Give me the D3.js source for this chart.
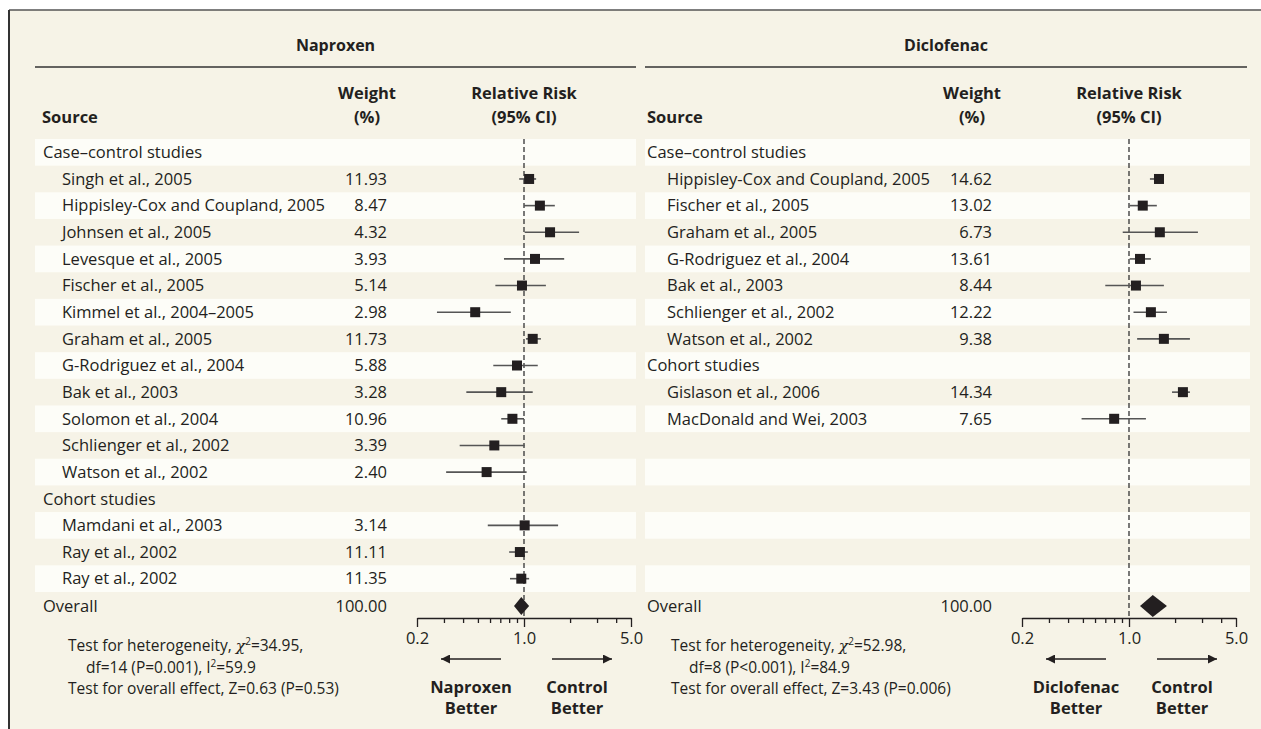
<!DOCTYPE html>
<html>
<head>
<meta charset="utf-8">
<script src="https://cdn.jsdelivr.net/npm/d3@7"></script>
<style>
  body { margin: 0; background: #fff; }
  text { font-family: "Open Sans", sans-serif; fill: #231f20; }
</style>
</head>
<body>
<script>
// constants
const width = 1261;
const height = 729;
const cream = "#f6f3e7";
const stripe = "#fdfdf8";
const ink = "#231f20";

// Naproxen data
const napNames = ["Singh et al., 2005", "Hippisley-Cox and Coupland, 2005", "Johnsen et al., 2005",
  "Levesque et al., 2005", "Fischer et al., 2005", "Kimmel et al., 2004–2005", "Graham et al., 2005",
  "G-Rodriguez et al., 2004", "Bak et al., 2003", "Solomon et al., 2004", "Schlienger et al., 2002",
  "Watson et al., 2002", "Mamdani et al., 2003", "Ray et al., 2002", "Ray et al., 2002"];
const napDesign = ["Case–control studies", "Case–control studies", "Case–control studies", "Case–control studies",
  "Case–control studies", "Case–control studies", "Case–control studies", "Case–control studies",
  "Case–control studies", "Case–control studies", "Case–control studies", "Case–control studies",
  "Cohort studies", "Cohort studies", "Cohort studies"];
const napWeight = ["11.93", "8.47", "4.32", "3.93", "5.14", "2.98", "11.73", "5.88", "3.28", "10.96", "3.39", "2.40", "3.14", "11.11", "11.35"];
const napRR = [1.08, 1.27, 1.48, 1.18, 0.97, 0.48, 1.14, 0.90, 0.71, 0.84, 0.64, 0.57, 1.01, 0.94, 0.96];
const napLo = [0.93, 1.00, 1.01, 0.74, 0.65, 0.27, 1.03, 0.63, 0.42, 0.71, 0.38, 0.31, 0.58, 0.80, 0.81];
const napHi = [1.20, 1.59, 2.29, 1.83, 1.39, 0.82, 1.29, 1.23, 1.14, 1.00, 1.01, 1.04, 1.67, 1.06, 1.08];
const napOverall = [0.86, 0.96, 1.08];
const napTests = [["Test for heterogeneity, ", "34.95,"], ["df=14 (P=0.001), I", "59.9"], "Test for overall effect, Z=0.63 (P=0.53)"];

// Diclofenac data
const dicNames = ["Hippisley-Cox and Coupland, 2005", "Fischer et al., 2005", "Graham et al., 2005",
  "G-Rodriguez et al., 2004", "Bak et al., 2003", "Schlienger et al., 2002", "Watson et al., 2002",
  "Gislason et al., 2006", "MacDonald and Wei, 2003"];
const dicDesign = ["Case–control studies", "Case–control studies", "Case–control studies", "Case–control studies",
  "Case–control studies", "Case–control studies", "Case–control studies", "Cohort studies", "Cohort studies"];
const dicWeight = ["14.62", "13.02", "6.73", "13.61", "8.44", "12.22", "9.38", "14.34", "7.65"];
const dicRR = [1.57, 1.23, 1.59, 1.18, 1.11, 1.39, 1.69, 2.25, 0.80];
const dicLo = [1.37, 1.01, 0.91, 1.01, 0.70, 1.07, 1.13, 1.91, 0.49];
const dicHi = [1.69, 1.52, 2.82, 1.39, 1.69, 1.77, 2.50, 2.50, 1.29];
const dicOverall = [1.18, 1.43, 1.77];
const dicTests = [["Test for heterogeneity, ", "52.98,"], ["df=8 (P<0.001), I", "84.9"], "Test for overall effect, Z=3.43 (P=0.006)"];

// axis ticks
const majorTicks = [0.2, 1, 5];
const minorTicks = [0.3, 0.4, 0.5, 0.6, 0.7, 0.8, 0.9, 2, 3, 4];
const nStripes = 17;

const rowFont = 16.5;
const testFont = 15.5;

const svg = d3.select("body").append("svg")
  .attr("width", width).attr("height", height);

svg.append("rect").attr("x", 9).attr("y", 10).attr("width", width - 9).attr("height", height - 10)
  .attr("fill", cream);
svg.append("line").attr("x1", 9).attr("x2", width).attr("y1", 10).attr("y2", 10)
  .attr("stroke", "#555").attr("stroke-width", 1.5);
svg.append("line").attr("x1", 9).attr("x2", 9).attr("y1", 10).attr("y2", height)
  .attr("stroke", "#333").attr("stroke-width", 2);

// arrow head
svg.append("defs").append("marker")
  .attr("id", "arrow").attr("viewBox", "0 0 10 10").attr("refX", 10).attr("refY", 5)
  .attr("markerWidth", 16).attr("markerHeight", 9).attr("markerUnits", "userSpaceOnUse")
  .attr("orient", "auto")
  .append("path").attr("d", "M0,0L10,5L0,10Z").attr("fill", ink);

const yRow = d3.scaleBand().domain(d3.range(nStripes)).range([139, 592]);
const yMid = i => yRow(i) + yRow.bandwidth() / 2;

function buildRows(names, design, weight, rr, lo, hi) {
  const rows = [];
  names.forEach((n, i) => {
    if (i === 0 || design[i] !== design[i - 1]) rows.push({ header: design[i] });
    rows.push({ name: n, weight: weight[i], rr: rr[i], lo: lo[i], hi: hi[i] });
  });
  return rows;
}

function drawPanel(p) {
  const g = svg.append("g");
  const x = d3.scaleLog().domain([0.2, 5]).range(p.xRange);
  const ref = x(1);

  // stripes
  g.selectAll("rect.stripe").data(d3.range(nStripes).filter(i => i % 2 === 0)).enter()
    .append("rect").attr("class", "stripe")
    .attr("x", p.bandX[0]).attr("width", p.bandX[1] - p.bandX[0])
    .attr("y", i => yRow(i)).attr("height", yRow.bandwidth())
    .attr("fill", stripe);

  // titles
  g.append("text").attr("x", (p.bandX[0] + p.ruleX[1]) / 2).attr("y", 51)
    .attr("text-anchor", "middle").attr("font-weight", "bold").attr("font-size", 16).text(p.title);
  g.append("line").attr("x1", p.ruleX[0]).attr("x2", p.ruleX[1]).attr("y1", 67).attr("y2", 67)
    .attr("stroke", "#333").attr("stroke-width", 1.3);
  g.append("text").attr("x", p.sourceX).attr("y", 123).attr("font-weight", "bold").attr("font-size", 16.5).text("Source");
  g.append("text").attr("x", p.weightX - 20).attr("y", 99).attr("text-anchor", "middle")
    .attr("font-weight", "bold").attr("font-size", 16.5).text("Weight");
  g.append("text").attr("x", p.weightX - 20).attr("y", 123).attr("text-anchor", "middle")
    .attr("font-weight", "bold").attr("font-size", 16.5).text("(%)");
  g.append("text").attr("x", ref).attr("y", 99).attr("text-anchor", "middle")
    .attr("font-weight", "bold").attr("font-size", 16.5).text("Relative Risk");
  g.append("text").attr("x", ref).attr("y", 123).attr("text-anchor", "middle")
    .attr("font-weight", "bold").attr("font-size", 16.5).text("(95% CI)");

  // reference line
  g.append("line").attr("x1", ref).attr("x2", ref).attr("y1", 139).attr("y2", 618)
    .attr("stroke", "#333").attr("stroke-width", 1.3).attr("stroke-dasharray", "5,3");

  // rows
  const rows = buildRows(p.names, p.design, p.weight, p.rr, p.lo, p.hi);
  rows.forEach((r, i) => {
    const cy = yMid(i);
    if (r.header) {
      g.append("text").attr("x", p.catX).attr("y", cy).attr("dy", "0.35em").attr("font-size", rowFont).text(r.header);
      return;
    }
    g.append("text").attr("x", p.nameX).attr("y", cy).attr("dy", "0.35em").attr("font-size", rowFont).text(r.name);
    g.append("text").attr("x", p.weightX).attr("y", cy).attr("dy", "0.35em").attr("text-anchor", "end")
      .attr("font-size", rowFont).text(r.weight);
    g.append("line").attr("x1", x(r.lo)).attr("x2", x(r.hi)).attr("y1", cy).attr("y2", cy)
      .attr("stroke", "#555").attr("stroke-width", 1.6);
    g.append("rect").attr("x", x(r.rr) - 5).attr("y", cy - 5).attr("width", 10).attr("height", 10)
      .attr("fill", ink);
  });

  // overall
  const oy = 606;
  g.append("text").attr("x", p.catX).attr("y", oy).attr("dy", "0.35em").attr("font-size", rowFont).text("Overall");
  g.append("text").attr("x", p.weightX).attr("y", oy).attr("dy", "0.35em").attr("text-anchor", "end")
    .attr("font-size", rowFont).text("100.00");
  const [olo, orr, ohi] = p.overall;
  const dh = p.diamondH / 2;
  g.append("path")
    .attr("d", `M${x(olo)},${oy}L${x(orr)},${oy - dh}L${x(ohi)},${oy}L${x(orr)},${oy + dh}Z`)
    .attr("fill", ink);

  // axis
  const axis = g.append("g").attr("transform", "translate(0,618)")
    .call(d3.axisBottom(x).tickValues(majorTicks.concat(minorTicks)).tickSize(8).tickSizeOuter(0)
      .tickFormat(d => majorTicks.includes(d) ? d3.format(".1f")(d) : ""));
  axis.select(".domain").attr("stroke", ink).attr("stroke-width", 1.3);
  axis.selectAll(".tick line").attr("stroke", ink).attr("stroke-width", 1.3)
    .attr("y2", d => majorTicks.includes(d) ? 9 : 5);
  axis.selectAll(".tick text").attr("y", 14).attr("font-size", 16.5)
    .attr("font-family", "Open Sans, sans-serif").attr("fill", ink);

  // direction arrows
  g.append("line").attr("x1", ref - 23).attr("x2", ref - 83).attr("y1", 659).attr("y2", 659)
    .attr("stroke", ink).attr("stroke-width", 1.4).attr("marker-end", "url(#arrow)");
  g.append("line").attr("x1", ref + 28).attr("x2", ref + 88).attr("y1", 659).attr("y2", 659)
    .attr("stroke", ink).attr("stroke-width", 1.4).attr("marker-end", "url(#arrow)");
  [[ref - 53, p.title], [ref + 53, "Control"]].forEach(([lx, word]) => {
    g.append("text").attr("x", lx).attr("y", 693).attr("text-anchor", "middle")
      .attr("font-weight", "bold").attr("font-size", 16.5).text(word);
    g.append("text").attr("x", lx).attr("y", 714).attr("text-anchor", "middle")
      .attr("font-weight", "bold").attr("font-size", 16.5).text("Better");
  });

  // test statistics
  const t1 = g.append("text").attr("x", p.testX).attr("y", 651).attr("font-size", testFont);
  t1.append("tspan").text(p.tests[0][0]);
  t1.append("tspan").attr("font-style", "italic").attr("font-family", "DejaVu Serif, serif").text("χ");
  t1.append("tspan").attr("dy", -6).attr("font-size", 10).text("2");
  t1.append("tspan").attr("dy", 6).text("=" + p.tests[0][1]);
  const t2 = g.append("text").attr("x", p.testX + 18).attr("y", 672.5).attr("font-size", testFont);
  t2.append("tspan").text(p.tests[1][0]);
  t2.append("tspan").attr("dy", -6).attr("font-size", 10).text("2");
  t2.append("tspan").attr("dy", 6).text("=" + p.tests[1][1]);
  g.append("text").attr("x", p.testX).attr("y", 694).attr("font-size", testFont).text(p.tests[2]);
}

drawPanel({
  title: "Naproxen", names: napNames, design: napDesign, weight: napWeight,
  rr: napRR, lo: napLo, hi: napHi, overall: napOverall, tests: napTests,
  bandX: [35, 636], ruleX: [35, 636], sourceX: 42, catX: 43, nameX: 62, weightX: 387,
  xRange: [417, 631], testX: 68, diamondH: 18
});
drawPanel({
  title: "Diclofenac", names: dicNames, design: dicDesign, weight: dicWeight,
  rr: dicRR, lo: dicLo, hi: dicHi, overall: dicOverall, tests: dicTests,
  bandX: [645, 1250], ruleX: [645, 1247], sourceX: 647, catX: 647, nameX: 667, weightX: 992,
  xRange: [1022, 1236], testX: 671, diamondH: 22
});
</script>
</body>
</html>
